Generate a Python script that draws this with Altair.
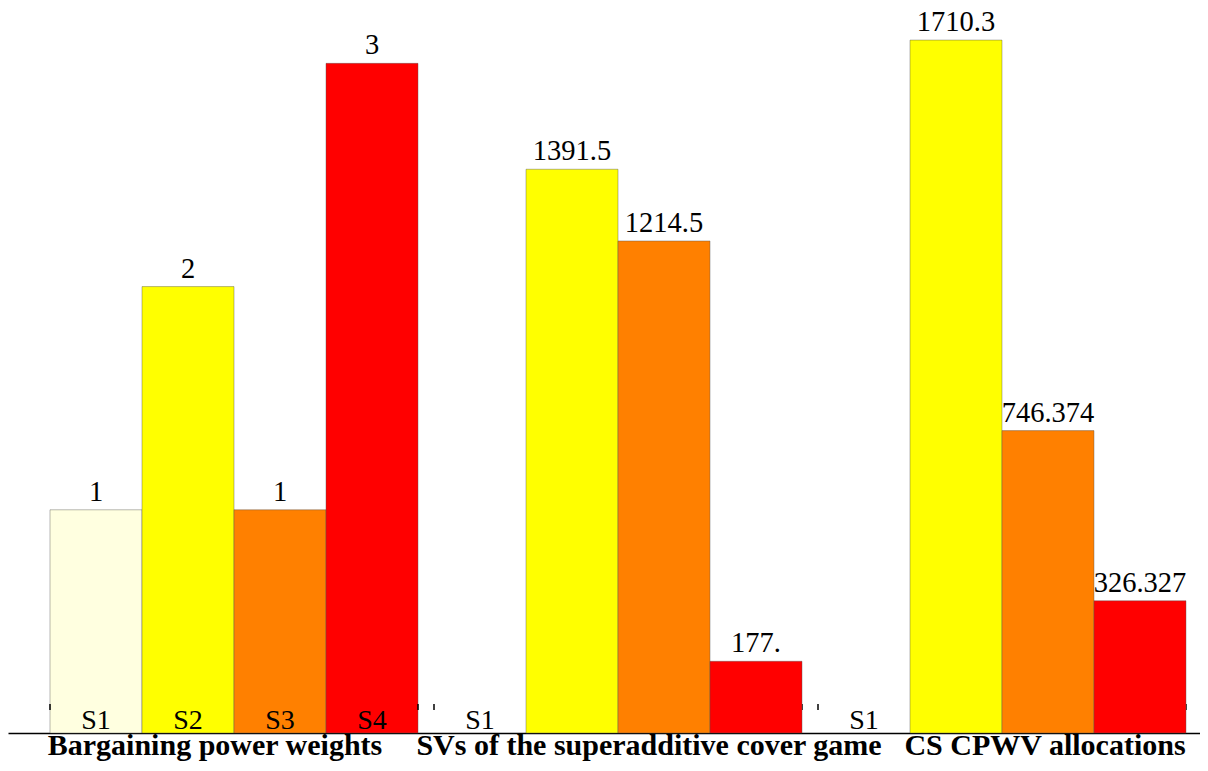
import altair as alt
import pandas as pd

groups = ["Bargaining power weights", "SVs of the superadditive cover game", "CS CPWV allocations"]
series = ["S1", "S2", "S3", "S4"]
colors = ["#FFFFE0", "#FFFF00", "#FF8000", "#FF0000"]

weights = [1, 2, 1, 3]
weight_labels = ["1", "2", "1", "3"]
sv_values = [None, 1391.5, 1214.5, 177.0]
sv_labels = ["", "1391.5", "1214.5", "177."]
cs_values = [None, 1710.3, 746.374, 326.327]
cs_labels = ["", "1710.3", "746.374", "326.327"]

rows_a = [dict(group=groups[0], series=s, value=v, label=l)
          for s, v, l in zip(series, weights, weight_labels)]
rows_b = []
for g, vals, labs in [(groups[1], sv_values, sv_labels), (groups[2], cs_values, cs_labels)]:
    for s, v, l in zip(series, vals, labs):
        if v is not None:
            rows_b.append(dict(group=g, series=s, value=v, label=l))
df_a = pd.DataFrame(rows_a)
df_b = pd.DataFrame(rows_b)
df_s = pd.DataFrame([dict(group=g, series=s) for g in groups for s in series])
df_g = pd.DataFrame(dict(group=groups))

FONT = "Liberation Serif"

x_scale = alt.Scale(domain=groups, paddingInner=0.041667, paddingOuter=0.07292, align=0.75)
x_axis = alt.Axis(labels=False, ticks=False, title=None, domainColor="black",
                  domainWidth=1.5, grid=False)
x_enc = alt.X("group:N", sort=groups, scale=x_scale, axis=x_axis)
xo_enc = alt.XOffset("series:N", sort=series,
                     scale=alt.Scale(domain=series, paddingInner=0, paddingOuter=0))
color_enc = alt.Color("series:N", scale=alt.Scale(domain=series, range=colors), legend=None)

def bar_layer(df, ymax):
    y = alt.Y("value:Q", scale=alt.Scale(domain=[0, ymax], nice=False, zero=True), axis=None)
    bars = alt.Chart(df).mark_bar(stroke="#555555", strokeWidth=0.6, strokeOpacity=0.7).encode(
        x=x_enc, xOffset=xo_enc, y=y, color=color_enc)
    text = alt.Chart(df).mark_text(font=FONT, fontSize=28.5, baseline="alphabetic", dy=-9,
                                   color="black").encode(
        x=x_enc, xOffset=xo_enc, y=y, text="label:N")
    return bars, text

bars_a, text_a = bar_layer(df_a, 3.248)
bars_b, text_b = bar_layer(df_b, 1789.5)

y0 = alt.Y("z:Q", scale=alt.Scale(domain=[0, 3.248], nice=False), axis=None)
s_labels = alt.Chart(df_s).transform_calculate(z="0").mark_text(
    font=FONT, fontSize=28, baseline="alphabetic", dy=-4, color="black").encode(
    x=x_enc, xOffset=xo_enc, y=y0, text="series:N")

# small edge ticks at the start and end of each group
edge_ticks = []
for bp in [0, 1]:
    edge_ticks.append(
        alt.Chart(df_g).transform_calculate(z0="0.103", z1="0.130").mark_rule(
            color="black", strokeWidth=1.5).encode(
            x=alt.X("group:N", sort=groups, scale=x_scale, axis=x_axis, bandPosition=bp),
            y=alt.Y("z0:Q", scale=alt.Scale(domain=[0, 3.248], nice=False), axis=None),
            y2="z1:Q"))

group_dx = [-19, 31, 43]
g_layers = []
for g, dx in zip(groups, group_dx):
    g_layers.append(
        alt.Chart(df_g).transform_filter(alt.datum.group == g).transform_calculate(z="0").mark_text(
            font=FONT, fontSize=30, fontWeight="bold", baseline="alphabetic", dy=22, dx=dx,
            color="black").encode(x=x_enc, y=y0, text="group:N"))

layer_a = alt.layer(bars_a, text_a, s_labels, *edge_ticks, *g_layers)
layer_b = alt.layer(bars_b, text_b)

chart = alt.layer(layer_a, layer_b).resolve_scale(y="independent").properties(
    width=1192, height=725,
    padding={"left": 0, "top": 0, "right": 0, "bottom": 30},
    autosize=alt.AutoSizeParams(type="none")
).configure_view(stroke=None)

chart.save("out.html", embed_options={"renderer": "svg", "actions": False})
